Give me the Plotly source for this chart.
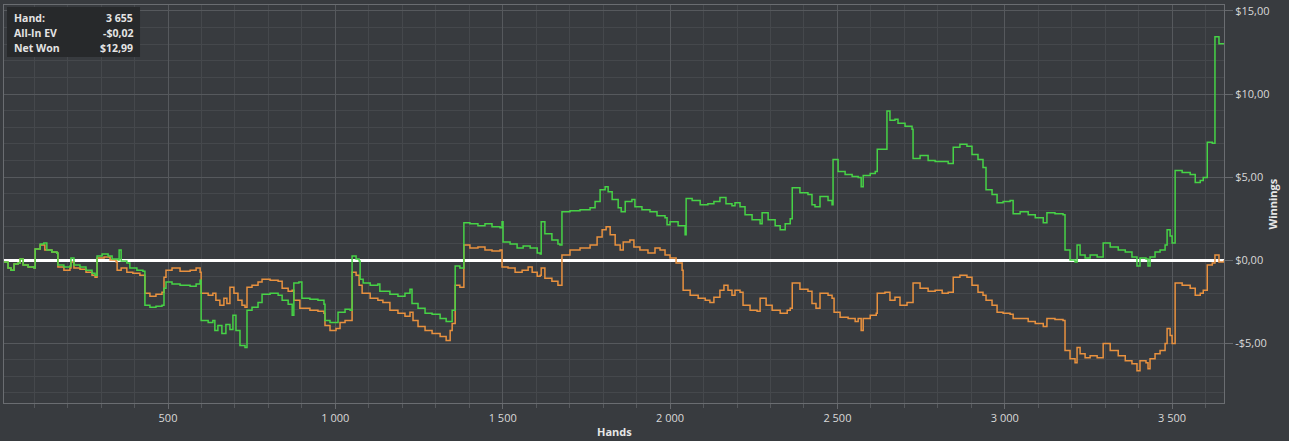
import plotly.graph_objects as go

# ---- data ----
net_hands = [10,22,31,40,52,58,67,82,100,103,118,129,138,153,168,171,189,207,210,219,237,255,273,282,288,303,321,333,351,354,360,377,386,407,425,431,446,464,482,488,494,512,536,566,584,596,599,620,634,640,649,661,673,685,694,703,715,730,736,751,769,781,805,829,841,859,871,876,891,900,924,948,966,969,984,1002,1008,1029,1044,1050,1062,1071,1074,1083,1104,1127,1133,1163,1187,1208,1223,1229,1247,1268,1289,1313,1331,1349,1358,1372,1384,1402,1426,1447,1468,1492,1498,1501,1522,1543,1561,1582,1603,1612,1615,1626,1647,1665,1671,1677,1701,1731,1761,1776,1791,1806,1815,1827,1845,1854,1866,1886,1895,1916,1940,1961,1985,1991,2000,2024,2045,2048,2066,2090,2113,2131,2149,2167,2185,2194,2209,2224,2245,2269,2275,2293,2314,2329,2344,2359,2365,2388,2412,2424,2433,2448,2472,2484,2487,2502,2523,2544,2562,2571,2577,2598,2613,2619,2639,2648,2657,2672,2681,2702,2723,2726,2747,2771,2792,2813,2831,2846,2866,2887,2902,2920,2935,2944,2962,2977,2995,3016,3025,3046,3070,3091,3115,3126,3150,3174,3180,3195,3210,3216,3225,3240,3255,3276,3294,3315,3339,3360,3380,3395,3404,3422,3428,3434,3449,3464,3479,3485,3494,3500,3509,3530,3554,3569,3584,3593,3605,3620,3628,3640,3655]
net_won = [-0.12,-0.48,-0.61,-0.24,-0.18,0.06,-0.30,-0.42,-0.48,0.67,0.97,1.03,0.61,0.48,0.42,-0.30,-0.42,-0.36,0.12,-0.30,-0.42,-0.61,-0.79,-0.91,0.24,0.36,0.24,0.06,0.00,0.61,-0.06,-0.18,-0.48,-0.61,-0.67,-2.73,-2.85,-2.79,-2.73,-1.70,-1.33,-1.45,-1.52,-1.58,-1.45,-1.21,-3.64,-3.76,-3.64,-4.24,-3.94,-4.42,-3.88,-4.18,-3.33,-4.24,-5.15,-5.27,-3.03,-2.85,-2.55,-2.06,-2.00,-2.12,-2.42,-2.67,-3.33,-1.39,-1.33,-2.30,-2.36,-2.42,-2.67,-3.64,-3.76,-3.76,-3.15,-2.97,-3.03,0.24,0.06,-0.06,-1.15,-1.39,-1.52,-1.45,-1.88,-2.06,-2.18,-2.00,-1.76,-2.61,-2.91,-3.21,-3.27,-3.52,-3.70,-3.03,-0.36,-0.48,2.24,2.18,2.06,2.18,2.00,1.94,2.30,1.09,0.97,0.73,0.85,0.73,0.42,0.36,2.30,1.58,1.21,0.97,0.91,2.91,2.97,3.03,3.15,3.52,4.24,4.42,4.12,3.64,3.15,2.91,3.52,3.64,3.21,3.03,2.91,2.67,2.55,2.12,2.30,2.06,1.52,3.70,3.58,3.33,3.39,3.52,3.76,3.39,3.27,3.45,3.21,2.73,2.42,2.18,2.85,2.42,2.06,1.82,2.18,2.48,4.36,4.06,3.94,3.33,3.21,3.82,3.58,3.33,6.06,5.33,5.15,5.03,4.97,4.42,5.09,5.21,5.33,6.67,6.67,8.97,8.42,8.48,8.24,8.06,7.88,6.12,6.30,6.00,5.94,5.94,5.82,6.79,6.97,6.85,6.36,6.06,5.58,4.24,3.94,3.45,3.52,3.58,2.79,2.91,2.73,2.55,2.24,2.85,2.79,2.73,0.61,0.00,-0.12,0.91,0.30,0.12,0.30,0.18,1.03,0.79,0.61,0.48,0.18,-0.36,0.12,0.06,-0.36,0.18,0.48,0.61,0.91,1.82,1.45,1.03,5.39,5.27,5.15,4.67,4.79,4.97,7.09,7.03,13.45,13.03,12.99]

ev_hands = [10,22,31,40,52,58,67,82,100,103,118,132,153,168,171,189,207,210,219,237,255,273,282,288,309,327,345,348,360,377,395,416,431,446,464,482,488,494,512,536,566,584,596,599,620,634,643,655,667,676,685,697,709,721,730,736,751,769,781,805,829,841,859,871,876,894,924,948,966,969,984,1002,1014,1029,1044,1050,1062,1071,1080,1104,1127,1142,1163,1187,1208,1223,1232,1247,1268,1289,1313,1331,1343,1349,1358,1372,1384,1402,1426,1447,1468,1492,1498,1516,1537,1558,1576,1588,1603,1612,1615,1626,1647,1665,1671,1677,1701,1731,1761,1782,1797,1809,1821,1836,1851,1860,1880,1892,1910,1934,1955,1970,1985,2000,2018,2036,2039,2060,2084,2105,2119,2131,2149,2161,2173,2185,2194,2209,2218,2239,2260,2269,2287,2305,2329,2350,2359,2365,2388,2412,2424,2436,2448,2472,2484,2490,2508,2532,2553,2562,2571,2577,2598,2616,2619,2642,2657,2672,2687,2708,2726,2747,2771,2792,2813,2831,2846,2866,2887,2902,2920,2935,2944,2962,2977,2995,3016,3025,3046,3070,3091,3115,3126,3150,3174,3180,3195,3210,3216,3225,3240,3255,3276,3294,3315,3339,3360,3380,3395,3404,3422,3428,3434,3449,3464,3479,3485,3494,3500,3509,3530,3554,3569,3584,3593,3605,3620,3628,3640,3655]
ev_won = [-0.12,-0.48,-0.61,-0.24,-0.18,0.06,-0.30,-0.42,-0.48,0.67,0.91,0.61,0.48,0.42,-0.42,-0.61,-0.48,-0.12,-0.48,-0.55,-0.73,-0.91,-1.03,0.12,0.18,0.00,-0.12,-0.61,-0.48,-0.73,-0.79,-0.91,-2.00,-2.18,-2.06,-1.94,-1.03,-0.61,-0.48,-0.67,-0.61,-0.48,-0.73,-2.00,-2.12,-2.00,-2.42,-2.73,-2.30,-2.61,-1.64,-2.00,-2.42,-2.73,-2.85,-1.64,-1.52,-1.33,-1.15,-1.21,-1.27,-1.70,-1.88,-1.82,-2.42,-2.91,-3.03,-3.09,-3.21,-3.94,-4.24,-4.12,-3.76,-3.64,-3.64,-0.73,-0.91,-1.52,-2.00,-2.30,-2.42,-2.55,-3.03,-3.21,-3.39,-3.15,-3.64,-4.00,-4.24,-4.42,-4.61,-4.85,-4.24,-3.82,-1.52,-1.64,0.91,0.73,0.79,0.61,0.55,0.61,-0.42,-0.48,-0.73,-0.61,-0.42,-0.73,-0.97,-0.91,-0.48,-1.09,-1.27,-1.52,-1.52,0.30,0.61,0.73,0.91,1.39,1.82,2.00,1.52,0.91,0.61,1.09,1.21,0.79,0.61,0.42,0.73,0.61,0.30,0.12,-0.18,-0.61,-1.82,-2.12,-2.30,-2.42,-2.55,-2.24,-1.82,-1.52,-1.82,-2.12,-1.82,-1.94,-2.73,-3.03,-3.09,-2.30,-2.73,-3.03,-3.21,-3.03,-2.91,-1.39,-1.76,-1.88,-2.61,-2.91,-2.00,-2.12,-2.30,-3.15,-3.45,-3.52,-3.70,-3.52,-4.24,-3.52,-3.33,-3.21,-2.00,-1.94,-2.42,-2.24,-2.73,-2.55,-1.39,-1.70,-1.88,-1.82,-2.00,-1.94,-1.03,-0.91,-1.03,-1.52,-1.94,-2.12,-2.42,-2.73,-3.15,-3.21,-3.27,-3.52,-3.52,-3.70,-3.82,-4.00,-3.52,-3.58,-3.64,-5.45,-5.94,-6.18,-5.27,-5.64,-5.88,-5.76,-5.88,-5.03,-5.45,-5.76,-6.06,-6.24,-6.67,-6.06,-6.18,-6.55,-5.94,-5.64,-5.45,-5.03,-4.12,-4.55,-5.03,-1.39,-1.52,-1.70,-2.12,-2.00,-1.82,-0.30,-0.18,0.30,-0.12,-0.02]

x_tickvals = [500, 1000, 1500, 2000, 2500, 3000, 3500]
x_ticktext = ["500", "1 000", "1 500", "2 000", "2 500", "3 000", "3 500"]
y_tickvals = [-5, 0, 5, 10, 15]
y_ticktext = ["-$5,00", "$0,00", "$5,00", "$10,00", "$15,00"]

info_labels = ["Hand:", "All-In EV", "Net Won"]
info_values = ["3 655", "-$0,02", "$12,99"]

BG = "#383b3f"
GREEN = "#46d246"
ORANGE = "#e8913f"
TXT = "#d9d9d9"
FONT = "Open Sans"

fig = go.Figure()
fig.add_trace(go.Scatter(x=ev_hands, y=ev_won, mode="lines", name="All-In EV",
                         line=dict(color=ORANGE, width=1.5, shape="hv"), hoverinfo="skip"))
fig.add_trace(go.Scatter(x=net_hands, y=net_won, mode="lines", name="Net Won",
                         line=dict(color=GREEN, width=1.5, shape="hv"), hoverinfo="skip"))

fig.update_layout(
    width=1289, height=441,
    margin=dict(l=4, r=65, t=5, b=38),
    paper_bgcolor=BG, plot_bgcolor=BG,
    showlegend=False,
    font=dict(family=FONT, size=11, color=TXT),
    xaxis=dict(range=[10, 3655], tickvals=x_tickvals, ticktext=x_ticktext,
               ticks="outside", ticklen=5, tickcolor="#66696d",
               showgrid=True, gridcolor="#56595d", gridwidth=1,
               minor=dict(tick0=0, dtick=100, showgrid=True, gridcolor="#45484c",
                          ticks="outside", ticklen=4, tickcolor="#56595d"),
               showline=True, linecolor="#6a6d71", linewidth=1, mirror=True,
               zeroline=False, tickfont=dict(size=11, color=TXT)),
    yaxis=dict(side="right", range=[-8.61, 15.36], tickvals=y_tickvals, ticktext=y_ticktext,
               ticks="outside", ticklen=8, tickcolor="#66696d",
               showgrid=True, gridcolor="#56595d", gridwidth=1,
               minor=dict(tick0=0, dtick=1, showgrid=True, gridcolor="#45484c"),
               showline=True, linecolor="#6a6d71", linewidth=1, mirror=True,
               zeroline=True, zerolinecolor="#ffffff", zerolinewidth=2.5,
               tickfont=dict(size=11, color=TXT)),
)

# axis titles
fig.add_annotation(text="<b>Winnings</b>", xref="paper", yref="paper", x=1, y=0.5,
                   xshift=57, textangle=-90, showarrow=False,
                   font=dict(size=11, color="#e6e6e6"))
fig.add_annotation(text="<b>Hands</b>", xref="paper", yref="paper", x=0.5, y=0,
                   yanchor="top", yshift=-19, showarrow=False,
                   font=dict(size=11, color="#e6e6e6"))

# info box
fig.add_shape(type="rect", xref="paper", yref="paper", x0=0.00246, x1=0.1115,
              y0=0.8693, y1=0.995, fillcolor="#27292b", line=dict(width=0), layer="above")
row_y = [0.967, 0.9296, 0.892]
for lab, val, yy in zip(info_labels, info_values, row_y):
    fig.add_annotation(text="<b>" + lab + "</b>", xref="paper", yref="paper", x=0.00656, y=yy,
                       xanchor="left", yanchor="middle", showarrow=False,
                       font=dict(size=10.5, color="#e4e4e4"))
    fig.add_annotation(text="<b>" + val + "</b>", xref="paper", yref="paper", x=0.1074, y=yy,
                       xanchor="right", yanchor="middle", showarrow=False,
                       font=dict(size=10.5, color="#e4e4e4"))

fig.write_html("out.html", config={"displayModeBar": False},
               post_script="document.body.style.margin='0';")
